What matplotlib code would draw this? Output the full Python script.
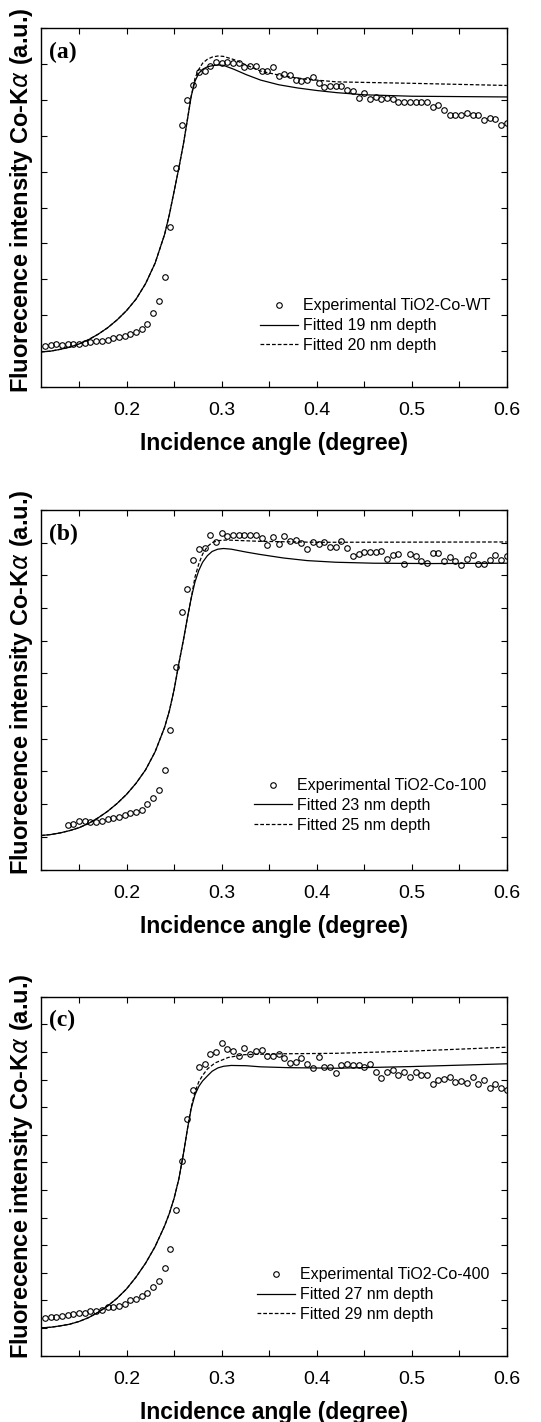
import matplotlib
matplotlib.use("Agg")
import matplotlib.pyplot as plt
import numpy as np

plt.rcParams['font.family'] = ['Liberation Sans', 'DejaVu Sans']

# ---- panel (a) TiO2-Co-WT ----
exp_a_x = [0.114, 0.120, 0.126, 0.132, 0.138, 0.144, 0.150, 0.156, 0.162, 0.168,
           0.174, 0.180, 0.186, 0.192, 0.198, 0.204, 0.210, 0.216, 0.222, 0.228,
           0.234, 0.240, 0.246, 0.252, 0.258, 0.264, 0.270, 0.276, 0.282, 0.288,
           0.294, 0.300, 0.306, 0.312, 0.318, 0.324, 0.330, 0.336, 0.342, 0.348,
           0.354, 0.360, 0.366, 0.372, 0.378, 0.384, 0.390, 0.396, 0.402, 0.408,
           0.414, 0.420, 0.426, 0.432, 0.438, 0.444, 0.450, 0.456, 0.462, 0.468,
           0.474, 0.480, 0.486, 0.492, 0.498, 0.504, 0.510, 0.516, 0.522, 0.528,
           0.534, 0.540, 0.546, 0.552, 0.558, 0.564, 0.570, 0.576, 0.582, 0.588,
           0.594, 0.600]
exp_a_y = [1.14, 1.16, 1.19, 1.18, 1.20, 1.21, 1.21, 1.24, 1.25, 1.27,
           1.29, 1.32, 1.36, 1.39, 1.43, 1.49, 1.54, 1.62, 1.75, 2.05,
           2.39, 3.06, 4.47, 6.11, 7.29, 7.99, 8.40, 8.77, 8.81, 8.94,
           9.04, 9.02, 9.05, 9.03, 9.03, 8.92, 8.95, 8.95, 8.81, 8.81,
           8.91, 8.66, 8.73, 8.68, 8.54, 8.53, 8.54, 8.63, 8.46, 8.36,
           8.39, 8.38, 8.38, 8.27, 8.24, 8.04, 8.18, 8.03, 8.07, 8.01,
           8.05, 8.03, 7.95, 7.95, 7.95, 7.95, 7.95, 7.95, 7.81, 7.86,
           7.73, 7.58, 7.58, 7.58, 7.64, 7.57, 7.57, 7.44, 7.49, 7.47,
           7.29, 7.36]
fit1_a_x = [0.110, 0.120, 0.130, 0.140, 0.150, 0.160, 0.170, 0.180, 0.190, 0.200,
            0.210, 0.220, 0.230, 0.240, 0.245, 0.250, 0.255, 0.260, 0.264, 0.268,
            0.272, 0.276, 0.280, 0.285, 0.290, 0.296, 0.302, 0.313, 0.326, 0.341,
            0.360, 0.380, 0.400, 0.421, 0.450, 0.500, 0.600]
fit1_a_y = [0.98, 1.00, 1.05, 1.11, 1.20, 1.32, 1.47, 1.65, 1.87, 2.13,
            2.45, 2.88, 3.45, 4.25, 4.80, 5.45, 6.10, 6.80, 7.45, 8.10,
            8.52, 8.74, 8.85, 8.92, 8.95, 8.97, 8.96, 8.85, 8.70, 8.55,
            8.42, 8.33, 8.26, 8.20, 8.14, 8.10, 8.08]
fit2_a_x = [0.110, 0.120, 0.130, 0.140, 0.150, 0.160, 0.170, 0.180, 0.190, 0.200,
            0.210, 0.220, 0.230, 0.240, 0.245, 0.250, 0.255, 0.260, 0.264, 0.268,
            0.272, 0.276, 0.280, 0.285, 0.290, 0.296, 0.302, 0.313, 0.326, 0.341,
            0.365, 0.391, 0.421, 0.500, 0.600]
fit2_a_y = [0.98, 1.00, 1.05, 1.11, 1.20, 1.32, 1.47, 1.65, 1.87, 2.13,
            2.45, 2.88, 3.45, 4.25, 4.80, 5.45, 6.10, 6.80, 7.45, 8.10,
            8.60, 8.85, 9.02, 9.13, 9.19, 9.22, 9.21, 9.12, 8.97, 8.80,
            8.66, 8.57, 8.50, 8.46, 8.40]

# ---- panel (b) TiO2-Co-100 ----
exp_b_x = [0.138, 0.144, 0.150, 0.156, 0.162, 0.168, 0.174, 0.180, 0.186, 0.192,
           0.198, 0.204, 0.210, 0.216, 0.222, 0.228, 0.234, 0.240, 0.246, 0.252,
           0.258, 0.264, 0.270, 0.276, 0.282, 0.288, 0.294, 0.300, 0.306, 0.312,
           0.318, 0.324, 0.330, 0.336, 0.342, 0.348, 0.354, 0.360, 0.366, 0.372,
           0.378, 0.384, 0.390, 0.396, 0.402, 0.408, 0.414, 0.420, 0.426, 0.432,
           0.438, 0.444, 0.450, 0.456, 0.462, 0.468, 0.474, 0.480, 0.486, 0.492,
           0.498, 0.504, 0.510, 0.516, 0.522, 0.528, 0.534, 0.540, 0.546, 0.552,
           0.558, 0.564, 0.570, 0.576, 0.582, 0.588, 0.594, 0.600]
exp_b_y = [1.35, 1.40, 1.47, 1.50, 1.46, 1.45, 1.50, 1.54, 1.58, 1.60,
           1.68, 1.72, 1.76, 1.83, 2.00, 2.19, 2.44, 3.05, 4.28, 6.21,
           7.88, 8.58, 9.46, 9.79, 9.83, 10.23, 10.01, 10.29, 10.20, 10.22,
           10.22, 10.23, 10.22, 10.23, 10.13, 9.94, 10.17, 9.97, 10.20, 10.06,
           10.07, 9.99, 9.82, 10.01, 9.97, 10.03, 9.87, 9.87, 10.06, 9.83,
           9.60, 9.64, 9.72, 9.71, 9.72, 9.73, 9.51, 9.61, 9.64, 9.35,
           9.64, 9.60, 9.44, 9.37, 9.67, 9.67, 9.44, 9.55, 9.43, 9.33,
           9.50, 9.63, 9.35, 9.35, 9.48, 9.61, 9.48, 9.60]
fit1_b_x = [0.110, 0.120, 0.130, 0.140, 0.150, 0.160, 0.170, 0.180, 0.190, 0.200,
            0.210, 0.220, 0.230, 0.240, 0.245, 0.250, 0.255, 0.260, 0.264, 0.268,
            0.272, 0.276, 0.280, 0.285, 0.290, 0.296, 0.302, 0.310, 0.326, 0.340,
            0.365, 0.390, 0.420, 0.460, 0.520, 0.600]
fit1_b_y = [1.04, 1.07, 1.12, 1.19, 1.28, 1.41, 1.58, 1.78, 2.02, 2.30,
            2.64, 3.05, 3.60, 4.35, 4.85, 5.50, 6.30, 7.05, 7.70, 8.30,
            8.80, 9.15, 9.40, 9.60, 9.73, 9.80, 9.82, 9.80, 9.71, 9.64,
            9.53, 9.45, 9.40, 9.37, 9.36, 9.37]
fit2_b_x = [0.110, 0.120, 0.130, 0.140, 0.150, 0.160, 0.170, 0.180, 0.190, 0.200,
            0.210, 0.220, 0.230, 0.240, 0.245, 0.250, 0.255, 0.260, 0.264, 0.268,
            0.272, 0.276, 0.280, 0.285, 0.290, 0.296, 0.305, 0.340, 0.400, 0.600]
fit2_b_y = [1.04, 1.07, 1.12, 1.19, 1.28, 1.41, 1.58, 1.78, 2.02, 2.30,
            2.64, 3.05, 3.60, 4.35, 4.85, 5.50, 6.30, 7.05, 7.70, 8.30,
            8.95, 9.35, 9.65, 9.88, 10.00, 10.06, 10.08, 10.04, 10.01, 10.02]

# ---- panel (c) TiO2-Co-400 ----
exp_c_x = [0.114, 0.120, 0.126, 0.132, 0.138, 0.144, 0.150, 0.156, 0.162, 0.168,
           0.174, 0.180, 0.186, 0.192, 0.198, 0.204, 0.210, 0.216, 0.222, 0.228,
           0.234, 0.240, 0.246, 0.252, 0.258, 0.264, 0.270, 0.276, 0.282, 0.288,
           0.294, 0.300, 0.306, 0.312, 0.318, 0.324, 0.330, 0.336, 0.342, 0.348,
           0.354, 0.360, 0.366, 0.372, 0.378, 0.384, 0.390, 0.396, 0.402, 0.408,
           0.414, 0.420, 0.426, 0.432, 0.438, 0.444, 0.450, 0.456, 0.462, 0.468,
           0.474, 0.480, 0.486, 0.492, 0.498, 0.504, 0.510, 0.516, 0.522, 0.528,
           0.534, 0.540, 0.546, 0.552, 0.558, 0.564, 0.570, 0.576, 0.582, 0.588,
           0.594, 0.600]
exp_c_y = [1.35, 1.39, 1.42, 1.44, 1.47, 1.51, 1.54, 1.54, 1.63, 1.62,
           1.66, 1.75, 1.75, 1.81, 1.88, 2.01, 2.06, 2.18, 2.28, 2.48,
           2.71, 3.17, 3.87, 5.28, 7.04, 8.56, 9.61, 10.47, 10.57, 10.91,
           10.98, 11.33, 11.11, 11.02, 10.84, 11.15, 10.91, 11.02, 11.08, 10.84,
           10.84, 10.93, 10.79, 10.61, 10.64, 10.79, 10.55, 10.41, 10.82, 10.47,
           10.47, 10.23, 10.51, 10.55, 10.53, 10.52, 10.47, 10.55, 10.27, 10.06,
           10.29, 10.34, 10.16, 10.29, 10.10, 10.27, 10.18, 10.18, 9.85, 9.99,
           10.01, 10.09, 9.91, 9.94, 9.87, 10.08, 9.85, 9.99, 9.70, 9.85,
           9.70, 9.61]
fit1_c_x = [0.110, 0.120, 0.130, 0.140, 0.150, 0.160, 0.170, 0.180, 0.190, 0.200,
            0.210, 0.220, 0.230, 0.240, 0.245, 0.250, 0.255, 0.260, 0.264, 0.268,
            0.272, 0.276, 0.280, 0.285, 0.290, 0.296, 0.302, 0.310, 0.326, 0.341,
            0.370, 0.421, 0.500, 0.600]
fit1_c_y = [1.01, 1.03, 1.08, 1.14, 1.24, 1.38, 1.57, 1.80, 2.08, 2.42,
            2.85, 3.35, 3.95, 4.70, 5.15, 5.70, 6.40, 7.35, 8.20, 8.95,
            9.45, 9.75, 9.95, 10.13, 10.30, 10.42, 10.48, 10.51, 10.50, 10.46,
            10.43, 10.41, 10.47, 10.57]
fit2_c_x = [0.110, 0.120, 0.130, 0.140, 0.150, 0.160, 0.170, 0.180, 0.190, 0.200,
            0.210, 0.220, 0.230, 0.240, 0.245, 0.250, 0.255, 0.260, 0.264, 0.268,
            0.272, 0.276, 0.280, 0.285, 0.293, 0.307, 0.324, 0.357, 0.421, 0.500,
            0.600]
fit2_c_y = [1.01, 1.03, 1.08, 1.14, 1.24, 1.38, 1.57, 1.80, 2.08, 2.42,
            2.85, 3.35, 3.95, 4.70, 5.15, 5.70, 6.40, 7.35, 8.20, 9.00,
            9.55, 9.92, 10.15, 10.38, 10.60, 10.80, 10.90, 10.93, 10.95, 11.03,
            11.17]

x_major = [0.2, 0.3, 0.4, 0.5, 0.6]
x_minor = [0.15, 0.25, 0.35, 0.45, 0.55]


def draw_panel(ax, letter, ex, ey, f1x, f1y, f2x, f2y, labels, ytop, leg_x, leg_y, ylab_y):

    ax.plot(ex, ey, 'o', mfc='none', mec='black', ms=4.0, mew=0.8, label=labels[0])
    ax.plot(f1x, f1y, '-', color='black', lw=0.9, label=labels[1])
    ax.plot(f2x, f2y, '--', color='black', lw=0.9, dashes=(3, 1.6), label=labels[2])

    ax.set_xlim(0.11, 0.6)
    ax.set_ylim(0, ytop)
    ax.set_xticks(x_major)
    ax.set_xticklabels(['0.2', '0.3', '0.4', '0.5', '0.6'], fontsize=14)
    ax.set_xticks(x_minor, minor=True)
    ax.set_yticks(np.arange(0, ytop + 1))
    ax.set_yticklabels([])
    ax.tick_params(which='both', direction='in', length=4, width=0.8,
                   top=True, right=True, pad=11)

    for s in ax.spines.values():
        s.set_linewidth(1.0)

    ax.set_xlabel('Incidence angle (degree)', fontsize=16.5, fontweight='bold')
    ax.xaxis.set_label_coords(0.5, -0.126)
    ax.set_ylabel('Fluorecence intensity Co-K$\\alpha$ (a.u.)', fontsize=17,
                  fontweight='bold')
    ax.yaxis.set_label_coords(-0.012, ylab_y)

    ax.text(0.017, 0.933, letter, transform=ax.transAxes, fontsize=17,
            fontweight='bold', family='Liberation Serif', va='center', ha='left')

    ax.legend(loc='center left', bbox_to_anchor=(leg_x, leg_y), frameon=False,
              fontsize=11.5, handlelength=2.4, handletextpad=0.3, labelspacing=0.3,
              borderpad=0, borderaxespad=0, numpoints=1)


def main():

    fig = plt.figure(figsize=(5.41, 14.22), dpi=100)

    ax_a = fig.add_axes([0.0758, 0.7278, 0.861, 0.2525])
    ax_b = fig.add_axes([0.0758, 0.3885, 0.861, 0.2529])
    ax_c = fig.add_axes([0.0758, 0.0466, 0.861, 0.2525])

    draw_panel(ax_a, '(a)', exp_a_x, exp_a_y, fit1_a_x, fit1_a_y, fit2_a_x, fit2_a_y,
               ['Experimental TiO2-Co-WT', 'Fitted 19 nm depth', 'Fitted 20 nm depth'],
               10, 0.47, 0.171, 0.52)
    draw_panel(ax_b, '(b)', exp_b_x, exp_b_y, fit1_b_x, fit1_b_y, fit2_b_x, fit2_b_y,
               ['Experimental TiO2-Co-100', 'Fitted 23 nm depth', 'Fitted 25 nm depth'],
               11, 0.457, 0.178, 0.52)
    draw_panel(ax_c, '(c)', exp_c_x, exp_c_y, fit1_c_x, fit1_c_y, fit2_c_x, fit2_c_y,
               ['Experimental TiO2-Co-400', 'Fitted 27 nm depth', 'Fitted 29 nm depth'],
               13, 0.4635, 0.17, 0.527)

    fig.savefig('out.png', dpi=100)


if __name__ == "__main__":
    main()
